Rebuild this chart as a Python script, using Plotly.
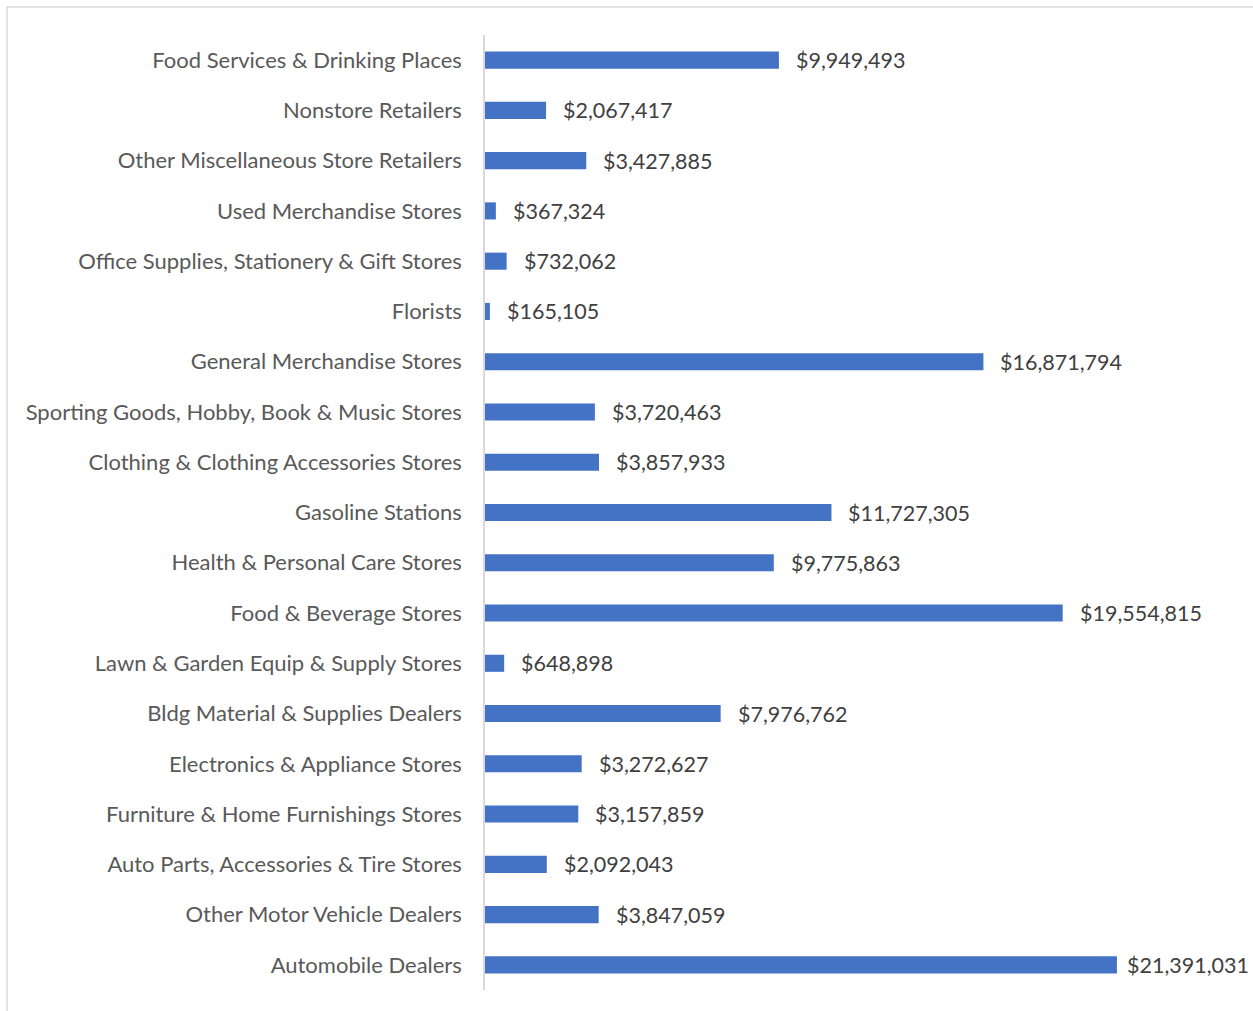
import plotly.graph_objects as go

categories = [
    "Food Services & Drinking Places",
    "Nonstore Retailers",
    "Other Miscellaneous Store Retailers",
    "Used Merchandise Stores",
    "Office Supplies, Stationery & Gift Stores",
    "Florists",
    "General Merchandise Stores",
    "Sporting Goods, Hobby, Book & Music Stores",
    "Clothing & Clothing Accessories Stores",
    "Gasoline Stations",
    "Health & Personal Care Stores",
    "Food & Beverage Stores",
    "Lawn & Garden Equip & Supply Stores",
    "Bldg Material & Supplies Dealers",
    "Electronics & Appliance Stores",
    "Furniture & Home Furnishings Stores",
    "Auto Parts, Accessories & Tire Stores",
    "Other Motor Vehicle Dealers",
    "Automobile Dealers",
]
values = [
    9949493, 2067417, 3427885, 367324, 732062, 165105, 16871794,
    3720463, 3857933, 11727305, 9775863, 19554815, 648898, 7976762,
    3272627, 3157859, 2092043, 3847059, 21391031,
]

W, H = 1253, 1011
ML, MT, MB = 485, 35, 21
XMAX = 24000000
PW = 709
MR = W - ML - PW
PH = H - MT - MB

FONT = "Lato"

fig = go.Figure()
fig.add_trace(go.Bar(
    x=values, y=categories, orientation="h",
    marker=dict(color="#4472C4", line=dict(width=0)),
    width=0.34,
    hoverinfo="skip",
))

vmax = max(values)
for c, v in zip(categories, values):
    # the largest label is nudged in to stay inside the chart area
    fig.add_annotation(
        x=v, y=c, text=f"${v:,}", showarrow=False,
        xanchor="left", yanchor="middle", xshift=8 if v == vmax else 15,
        font=dict(family=FONT, size=21.5, color="#404040"),
    )

# outer chart border
fig.add_shape(
    type="rect", xref="paper", yref="paper",
    x0=(7 - ML) / PW, x1=(W + 20 - ML) / PW,
    y0=-(MB + 20) / PH, y1=1 + (MT - 7) / PH,
    line=dict(color="#d9d9d9", width=1.5), fillcolor="rgba(0,0,0,0)",
    layer="below",
)

fig.update_layout(
    width=W, height=H,
    margin=dict(l=ML, r=MR, t=MT, b=MB),
    paper_bgcolor="white", plot_bgcolor="white",
    showlegend=False,
    xaxis=dict(range=[0, XMAX], visible=False, showgrid=False, zeroline=False),
    yaxis=dict(
        autorange="reversed", showgrid=False, zeroline=False,
        showline=True, linecolor="#d9d9d9", linewidth=1.5,
        ticks="", ticklabelstandoff=17,
        tickfont=dict(family=FONT, size=22, color="#595959"),
    ),
    bargap=0.66,
)

fig.write_html(
    "out.html",
    config={"displayModeBar": False},
    post_script="document.body.style.margin='0px';document.body.style.overflow='hidden';",
)
